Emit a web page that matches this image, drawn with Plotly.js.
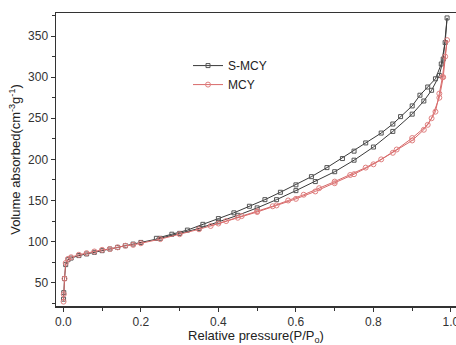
<!DOCTYPE html>
<html>
<head>
<meta charset="utf-8">
<script src="https://cdn.plot.ly/plotly-3.0.1.min.js"></script>
<style>html,body{margin:0;padding:0;background:#fff;}#chart{width:456px;height:345px;}</style>
</head>
<body>
<div id="chart"></div>
<script>
// S-MCY adsorption branch
var smcyAdsX = [0.0005,0.001,0.003,0.006,0.012,0.02,0.04,0.06,0.08,0.1,0.12,0.14,0.16,0.18,0.2,0.25,0.3,0.35,0.4,0.45,0.5,0.55,0.6,0.65,0.7,0.75,0.8,0.85,0.9,0.93,0.95,0.97,0.98,0.99];
var smcyAdsY = [30,38,55,72,78,80,83,85,87,89,91,93,95,97,99,104,110,116,124,132,141,151,162,173,185,199,215,234,255,271,284,302,322,372];
// S-MCY desorption branch
var smcyDesX = [0.985,0.975,0.96,0.94,0.92,0.9,0.87,0.85,0.82,0.78,0.75,0.72,0.68,0.64,0.6,0.56,0.52,0.48,0.44,0.4,0.36,0.32,0.28,0.24];
var smcyDesY = [342,316,298,288,278,265,252,243,232,220,210,201,190,179,169,160,151,143,135,128,121,114,109,104];
// MCY adsorption branch
var mcyAdsX = [0.0005,0.001,0.003,0.006,0.012,0.02,0.04,0.06,0.08,0.1,0.12,0.14,0.16,0.18,0.2,0.25,0.3,0.35,0.4,0.45,0.5,0.55,0.6,0.65,0.7,0.75,0.8,0.85,0.9,0.93,0.95,0.97,0.98,0.99];
var mcyAdsY = [27,36,55,74,79,81,84,86,88,90,91,93,95,96,98,103,109,115,122,129,136,144,152,161,171,182,194,208,223,236,250,275,300,345];
// MCY desorption branch
var mcyDesX = [0.985,0.978,0.97,0.96,0.94,0.9,0.86,0.82,0.78,0.74,0.7,0.66,0.62,0.58,0.54,0.5,0.46,0.42,0.38];
var mcyDesY = [325,300,280,258,242,226,212,200,190,181,173,165,157,150,143,137,131,125,119];

var seriesNames = ['S-MCY','MCY'];
var xTickVals = [0,0.2,0.4,0.6,0.8,1.0];
var yTickVals = [50,100,150,200,250,300,350];

var traces = [
  {x: smcyAdsX.concat(smcyDesX), y: smcyAdsY.concat(smcyDesY), name: seriesNames[0], mode: 'lines+markers', type: 'scatter',
   line: {color: '#3a3a3a', width: 1}, marker: {symbol: 'square-open', size: 4, color: '#555', line: {width: 1}}},
  {x: mcyAdsX.concat(mcyDesX), y: mcyAdsY.concat(mcyDesY), name: seriesNames[1], mode: 'lines+markers', type: 'scatter',
   line: {color: '#d86a6a', width: 1}, marker: {symbol: 'circle-open', size: 5, color: '#e08080', line: {width: 1}}}
];

var axFont = {family: 'Liberation Sans, Arial, sans-serif', size: 12, color: '#333'};
var layout = {
  width: 456, height: 345,
  margin: {l: 56, r: 0, t: 13, b: 39},
  paper_bgcolor: '#fff', plot_bgcolor: '#fff',
  showlegend: true,
  legend: {x: 0.33, y: 0.87, xanchor: 'left', yanchor: 'top', bgcolor: 'rgba(0,0,0,0)', font: {family: 'Liberation Sans, Arial, sans-serif', size: 12, color: '#222'}, tracegroupgap: 0, itemwidth: 30},
  xaxis: {
    range: [-0.019, 1.013], tickvals: xTickVals, tickformat: '.1f', ticklabeloverflow: 'allow',
    showgrid: false, zeroline: false, showline: true, linecolor: '#333', linewidth: 1.5,
    mirror: true, ticks: 'outside', ticklen: 4, tickcolor: '#333',
    minor: {dtick: 0.1, tick0: 0, ticks: 'outside', ticklen: 3, tickcolor: '#333'},
    tickfont: axFont,
    title: {text: 'Relative pressure(P/P<sub>o</sub>)', font: {family: 'Liberation Sans, Arial, sans-serif', size: 13, color: '#222'}, standoff: 2}
  },
  yaxis: {
    range: [21.7, 378], tickvals: yTickVals,
    showgrid: false, zeroline: false, showline: true, linecolor: '#333', linewidth: 1.5,
    ticks: 'outside', ticklen: 4, tickcolor: '#333',
    minor: {dtick: 25, tick0: 0, ticks: 'outside', ticklen: 3, tickcolor: '#333'},
    tickfont: axFont,
    title: {text: 'Volume absorbed(cm<sup>-3</sup>g<sup>-1</sup>)', font: {family: 'Liberation Sans, Arial, sans-serif', size: 13, color: '#222'}, standoff: 4}
  }
};
Plotly.newPlot('chart', traces, layout, {staticPlot: true, displayModeBar: false});
</script>
</body>
</html>
